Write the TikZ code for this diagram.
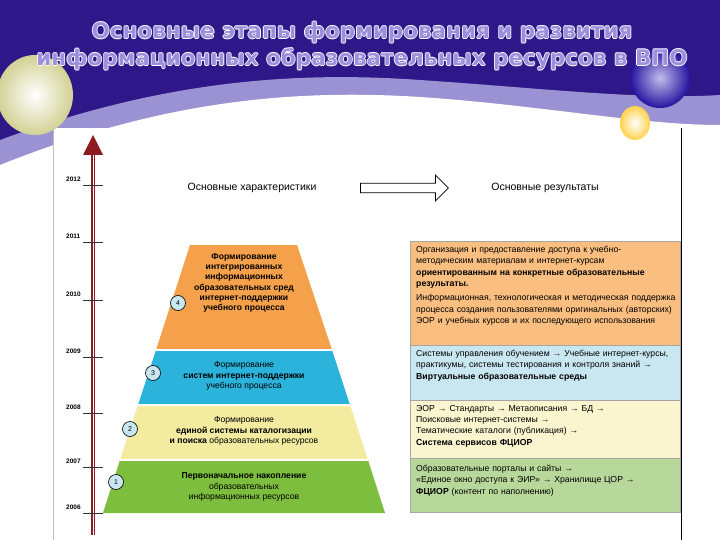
\documentclass[tikz,border=0pt]{standalone}
\usepackage{fontspec}
\setmainfont{Liberation Sans}
\newfontfamily\titlefont{DejaVu Sans}
\usetikzlibrary{shapes.arrows,calc}
\definecolor{bgdark}{HTML}{2E1889}
\definecolor{lav}{HTML}{9C90DD}
\definecolor{wave}{HTML}{9A92D2}
\definecolor{orng}{HTML}{F5A04A}
\definecolor{orngl}{HTML}{F9BE80}
\definecolor{blu}{HTML}{2CB3DC}
\definecolor{blul}{HTML}{C9E7F1}
\definecolor{yel}{HTML}{F2EBA0}
\definecolor{yell}{HTML}{FAF5CE}
\definecolor{grn}{HTML}{7DBE3E}
\definecolor{grnl}{HTML}{B7D89A}
\definecolor{axred}{HTML}{8E1B20}
\tikzset{
  yr/.style={font=\fontsize{6.5}{7}\selectfont\bfseries, anchor=south west, inner sep=0pt},
  num/.style={circle, draw=black, fill=blul, line width=0.6pt, minimum size=15pt, inner sep=0pt, font=\fontsize{7}{7}\selectfont},
  band/.style={align=center, font=\fontsize{8.6}{10.2}\selectfont, inner sep=0pt},
  res/.style={align=left, anchor=north west, font=\fontsize{8.7}{11.3}\selectfont, inner sep=0pt, text width=260pt},
  hdr/.style={font=\fontsize{10.5}{11}\selectfont},
  ttl/.style={font=\titlefont\bfseries\fontsize{21.5}{27}\selectfont, align=center}
}
\newcommand{\ttltext}{Основные этапы формирования и развития\\информационных образовательных ресурсов в ВПО}
\begin{document}
\begin{tikzpicture}[x=1pt,y=-1pt]
\useasboundingbox (0,0) rectangle (720,540);
% background
\fill[bgdark] (0,0) rectangle (720,540);
\fill[wave] (0,140) .. controls (150,85) and (280,70) .. (420,80) .. controls (540,88) and (640,100) .. (720,95) -- (720,540) -- (0,540) -- cycle;
\fill[white] (0,165) .. controls (150,105) and (280,88) .. (420,97) .. controls (540,105) and (640,125) .. (720,125) -- (720,540) -- (0,540) -- cycle;
\fill[white] (53,128) rectangle (682,540);
% balls
\shade[inner color=white, outer color=yellow!40!gray!60] (35,95) ellipse (38 and 40);
\shade[inner color=lav!60, outer color=bgdark!80!blue] (660,78) circle (30);
\shade[inner color=white, outer color=orange!50!yellow!70] (635,123) ellipse (15 and 17);
\draw[gray!50] (53,128) -- (53,540);
\draw[black] (681,128) -- (681,540);
% title
\foreach \dx/\dy in {-0.8/0,0.8/0,0/-0.8,0/0.8}{
  \node[ttl, text=white] at (362+\dx,46+\dy) {\ttltext};
}
\node[ttl, text=lav] (title) at (362,46) {\ttltext};
% axis
\coordinate (ab) at (93,535);
\coordinate (at) at (93,135);
\draw[axred, line width=3.2pt] (ab) -- (93,150);
\draw[white, line width=1pt] (ab) -- (93,150);
\fill[axred] (at) -- (83,155) -- (103,155) -- cycle;
\foreach \y/\t in {185/2012,242/2011,300/2010,357/2009,413/2008,467/2007,513/2006}{
  \draw[black!80] (83,\y) -- (103,\y);
  \node[yr] at (66,\y-3) {\t};
}
% headers
\node[hdr] (h1) at (252,188) {Основные характеристики};
\node[hdr] (h2) at (545,188) {Основные результаты};
\node[single arrow, draw=black, fill=white, minimum height=88pt, minimum width=26pt, single arrow head extend=4pt, inner sep=2pt, line width=0.7pt] (arr) at (402,188) {};
% pyramid
\fill[grn] (103,513) -- (385,513) -- (368,460) -- (120,460) -- cycle;
\fill[yel] (120,460) -- (368,460) -- (350,405) -- (138,405) -- cycle;
\fill[blu] (138,405) -- (350,405) -- (332,350) -- (156,350) -- cycle;
\fill[orng] (156,350) -- (332,350) -- (297,245) -- (190,245) -- cycle;
\draw[white, line width=1.5pt] (120,460) -- (368,460) (138,405) -- (350,405) (156,350) -- (332,350);
\node[band] (b4) at (244,283) {\textbf{Формирование}\\\textbf{интегрированных}\\\textbf{информационных}\\\textbf{образовательных сред}\\\textbf{интернет-поддержки}\\\textbf{учебного процесса}};
\node[band] (b3) at (244,376) {Формирование\\\textbf{систем интернет-поддержки}\\учебного процесса};
\node[band] (b2) at (244,431) {Формирование\\\textbf{единой системы каталогизации}\\\textbf{и поиска} образовательных ресурсов};
\node[band] (b1) at (244,487) {\textbf{Первоначальное накопление}\\образовательных\\информационных ресурсов};
\node[num] (n1) at (116,482) {1};
\node[num] (n2) at (130,429) {2};
\node[num] (n3) at (153,373) {3};
\node[num] (n4) at (178,303) {4};
% result boxes
\fill[orngl] (410,241) rectangle (680,345);
\fill[blul] (410,345) rectangle (680,400);
\fill[yell] (410,400) rectangle (680,458);
\fill[grnl] (410,458) rectangle (680,512);
\draw[gray!70] (410,241) rectangle (680,512) (410,345) -- (680,345) (410,400) -- (680,400) (410,458) -- (680,458);
\node[res] (r4) at (416,246) {Организация и предоставление доступа к учебно-методическим материалам и интернет-курсам \textbf{ориентированным на конкретные образовательные результаты.}\\[3pt]Информационная, технологическая и методическая поддержка процесса создания пользователями оригинальных (авторских) ЭОР и учебных курсов и их последующего использования};
\node[res] (r3) at (416,350) {Системы управления обучением → Учебные интернет-курсы, практикумы, системы тестирования и контроля знаний → \textbf{Виртуальные образовательные среды}};
\node[res] (r2) at (416,405) {ЭОР → Стандарты → Метаописания → БД →\\Поисковые интернет-системы →\\Тематические каталоги (публикация) →\\\textbf{Система сервисов ФЦИОР}};
\node[res] (r1) at (416,465) {Образовательные порталы и сайты →\\«Единое окно доступа к ЭИР» → Хранилище ЦОР →\\\textbf{ФЦИОР} (контент по наполнению)};
\end{tikzpicture}
\end{document}
